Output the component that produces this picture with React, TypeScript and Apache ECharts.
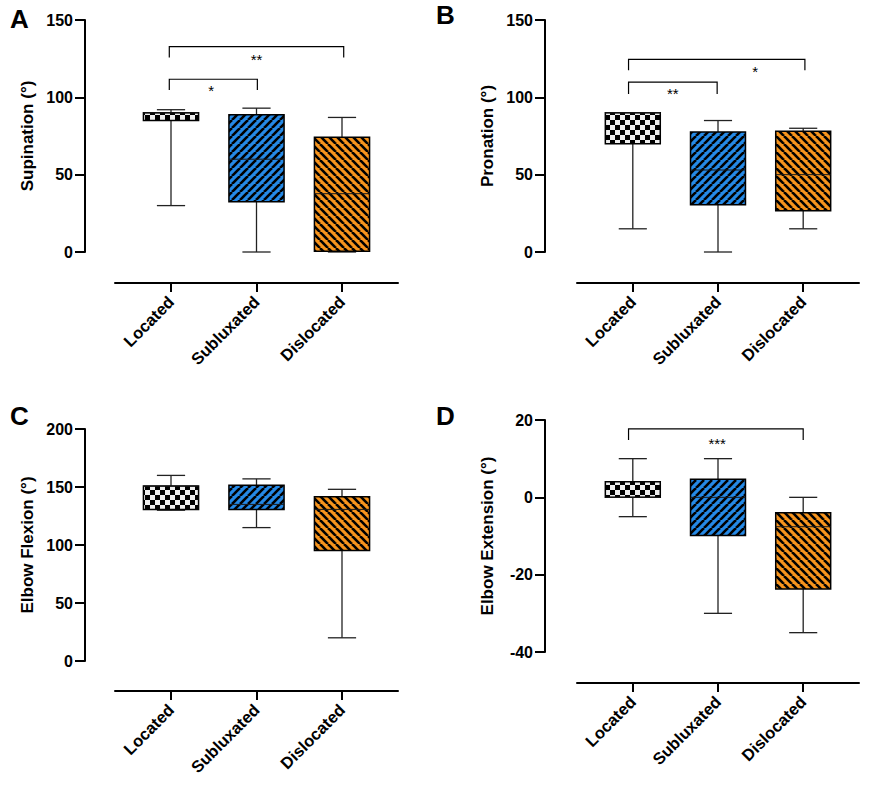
import React, { useEffect, useRef } from 'react';
import * as echarts from 'echarts';

const categories = ['Located', 'Subluxated', 'Dislocated'];
const tickValues = [0, 1, 2];

// each row: [min, Q1, median, Q3, max]
const supination = [
  [30, 85, 90, 90, 92],
  [0, 32.5, 60, 88.7, 93],
  [0, 0.5, 37.7, 74.2, 87],
];
const pronation = [
  [15, 70, 90, 90, 90],
  [0, 30.6, 53, 77.6, 85],
  [15, 26.7, 50, 78, 80],
];
const flexion = [
  [130, 130.7, 150.8, 150.8, 160],
  [115, 130.7, 135, 151.6, 157],
  [20, 95.3, 130.7, 141.6, 148],
];
const extension = [
  [-5, 0, 0, 4, 10],
  [-30, -9.9, 0, 4.7, 10],
  [-35, -23.7, -7.6, -4, 0],
];

// brackets: [x1, x2, topValue, dropValue]
const supBrackets = [
  [-0.02, 1.01, 111.7, 104.8],
  [-0.02, 2.02, 132.8, 125.8],
];
const proBrackets = [
  [-0.05, 0.99, 109.8, 102.2],
  [-0.05, 2.02, 124.6, 117.5],
];
const flexBrackets: number[][] = [];
const extBrackets = [[-0.05, 2.0, 17.7, 14.8]];

// significance stars: [x, y]
const supStarPos = [[0.47, 106.2], [1.0, 126.3]];
const supStarText = ['*', '**'];
const proStarPos = [[0.47, 104.3], [1.435, 118.8]];
const proStarText = ['**', '*'];
const flexStarPos: number[][] = [];
const flexStarText: string[] = [];
const extStarPos = [[0.99, 14.8]];
const extStarText = ['***'];

const FONT = '"Liberation Sans", Arial, Helvetica, sans-serif';

function makeChecker() {
  const c = document.createElement('canvas');
  c.width = 10; c.height = 10;
  const ctx = c.getContext('2d')!;
  ctx.fillStyle = '#eeeeee';
  ctx.fillRect(0, 0, 10, 10);
  ctx.fillStyle = '#000000';
  ctx.fillRect(0, 0, 5, 5);
  ctx.fillRect(5, 5, 5, 5);
  return { image: c, repeat: 'repeat', imageWidth: 10, imageHeight: 10 };
}

function makeStripe(bg: string, forward: boolean) {
  const n = 8;
  const c = document.createElement('canvas');
  c.width = n; c.height = n;
  const ctx = c.getContext('2d')!;
  ctx.fillStyle = bg;
  ctx.fillRect(0, 0, n, n);
  ctx.strokeStyle = '#000000';
  ctx.lineWidth = 2.6;
  for (let k = -1; k <= 1; k++) {
    ctx.beginPath();
    if (forward) {
      ctx.moveTo(k * n, n);
      ctx.lineTo(k * n + n, 0);
    } else {
      ctx.moveTo(k * n, 0);
      ctx.lineTo(k * n + n, n);
    }
    ctx.stroke();
  }
  return { image: c, repeat: 'repeat', imageWidth: n, imageHeight: n };
}

export default function App() {
  const ref = useRef<HTMLDivElement>(null);

  useEffect(() => {
    if (!ref.current) return;
    const chart = echarts.init(ref.current, null, { renderer: 'svg' });

    const patterns = [makeChecker(), makeStripe('#2589E6', true), makeStripe('#F7941D', false)];

    const panels = [
      { letter: 'A', data: supination, yName: 'Supination (°)', yMin: 0, yMax: 150, yInt: 50,
        grid: { left: 115, top: 20, width: 283, height: 232 }, yOff: 30, xOff: 31,
        brackets: supBrackets, starPos: supStarPos, starText: supStarText, lx: 10, ly: 21 },
      { letter: 'B', data: pronation, yName: 'Pronation (°)', yMin: 0, yMax: 150, yInt: 50,
        grid: { left: 577, top: 20, width: 282, height: 232 }, yOff: 32, xOff: 31,
        brackets: proBrackets, starPos: proStarPos, starText: proStarText, lx: 436, ly: 17 },
      { letter: 'C', data: flexion, yName: 'Elbow Flexion (°)', yMin: 0, yMax: 200, yInt: 50,
        grid: { left: 115, top: 429, width: 283, height: 232 }, yOff: 30, xOff: 30,
        brackets: flexBrackets, starPos: flexStarPos, starText: flexStarText, lx: 10, ly: 418 },
      { letter: 'D', data: extension, yName: 'Elbow Extension (°)', yMin: -40, yMax: 20, yInt: 20,
        grid: { left: 577, top: 420, width: 282, height: 232 }, yOff: 32, xOff: 31,
        brackets: extBrackets, starPos: extStarPos, starText: extStarText, lx: 436, ly: 418 },
    ];

    const grids: any[] = [];
    const xAxes: any[] = [];
    const yAxes: any[] = [];
    const series: any[] = [];
    const graphics: any[] = [];

    panels.forEach((p, gi) => {
      grids.push({ ...p.grid, outerBoundsMode: 'none', containLabel: false });
      xAxes.push({
        type: 'value', gridIndex: gi, min: -0.655, max: 2.655, position: 'bottom', offset: p.xOff,
        splitLine: { show: false },
        axisLine: { show: true, onZero: false, lineStyle: { color: '#000', width: 2 } },
        axisTick: { show: true, customValues: tickValues, length: 9, inside: false, lineStyle: { color: '#000', width: 2 } },
        axisLabel: {
          show: true, customValues: tickValues, rotate: 45, margin: 16,
          formatter: (v: number) => categories[Math.round(v)] ?? '',
          color: '#000', fontWeight: 'bold', fontSize: 16.5, fontFamily: FONT,
        },
      });
      yAxes.push({
        type: 'value', gridIndex: gi, min: p.yMin, max: p.yMax, interval: p.yInt, offset: p.yOff,
        splitLine: { show: false },
        axisLine: { show: true, onZero: false, lineStyle: { color: '#000', width: 2 } },
        axisTick: { show: true, length: 10, inside: false, lineStyle: { color: '#000', width: 2 } },
        axisLabel: { color: '#000', fontWeight: 'bold', fontSize: 16, fontFamily: FONT, margin: 12 },
        name: p.yName, nameLocation: 'middle', nameGap: 49, nameMoveOverlap: false,
        nameTextStyle: { color: '#000', fontWeight: 'bold', fontSize: 17, fontFamily: FONT },
      });

      const boxData = p.data.map((d, i) => [i, ...d]);
      series.push({
        type: 'custom', xAxisIndex: gi, yAxisIndex: gi,
        encode: { x: 0, y: [1, 2, 3, 4, 5] },
        data: boxData,
        renderItem: (params: any, api: any) => {
          const x = api.value(0);
          const idx = Math.round(x);
          const pMin = api.coord([x, api.value(1)]);
          const pQ1 = api.coord([x, api.value(2)]);
          const pMed = api.coord([x, api.value(3)]);
          const pQ3 = api.coord([x, api.value(4)]);
          const pMax = api.coord([x, api.value(5)]);
          const bw = api.size([0.645, 0])[0];
          const cw = api.size([0.33, 0])[0];
          const cx = pMed[0];
          const ws = { stroke: '#222', lineWidth: 1.3 };
          const children: any[] = [
            { type: 'line', shape: { x1: cx, y1: pMax[1], x2: cx, y2: pQ3[1] }, style: ws },
            { type: 'line', shape: { x1: cx - cw / 2, y1: pMax[1], x2: cx + cw / 2, y2: pMax[1] }, style: ws },
            { type: 'line', shape: { x1: cx, y1: pQ1[1], x2: cx, y2: pMin[1] }, style: ws },
            { type: 'line', shape: { x1: cx - cw / 2, y1: pMin[1], x2: cx + cw / 2, y2: pMin[1] }, style: ws },
            {
              type: 'rect',
              shape: { x: cx - bw / 2, y: pQ3[1], width: bw, height: pQ1[1] - pQ3[1] },
              style: { fill: patterns[idx] as any, stroke: '#000', lineWidth: 1.5 },
            },
            { type: 'line', shape: { x1: cx - bw / 2, y1: pMed[1], x2: cx + bw / 2, y2: pMed[1] }, style: { stroke: '#1a1a1a', lineWidth: 1 } },
          ];
          return { type: 'group', children };
        },
        z: 2,
      });

      if (p.brackets.length) {
        series.push({
          type: 'custom', xAxisIndex: gi, yAxisIndex: gi,
          encode: { x: [0, 1], y: [2, 3] },
          data: p.brackets,
          renderItem: (params: any, api: any) => {
            const a = api.coord([api.value(0), api.value(2)]);
            const b = api.coord([api.value(1), api.value(2)]);
            const a2 = api.coord([api.value(0), api.value(3)]);
            const b2 = api.coord([api.value(1), api.value(3)]);
            return {
              type: 'polyline',
              shape: { points: [a2, a, b, b2] },
              style: { stroke: '#000', lineWidth: 1.2, fill: 'none' },
            };
          },
        });
      }
      if (p.starPos.length) {
        const texts = p.starText;
        series.push({
          type: 'custom', xAxisIndex: gi, yAxisIndex: gi,
          encode: { x: 0, y: 1 },
          data: p.starPos,
          renderItem: (params: any, api: any) => {
            const pt = api.coord([api.value(0), api.value(1)]);
            return {
              type: 'text', x: pt[0], y: pt[1] + 3,
              style: {
                text: texts[params.dataIndex], fill: '#000',
                font: `normal 15px ${FONT}`, align: 'center', verticalAlign: 'middle',
              },
            };
          },
        });
      }

      graphics.push({
        type: 'text', left: p.lx, top: p.ly - 15,
        style: { text: p.letter, fill: '#000', font: `bold 26px ${FONT}` },
      });
    });

    chart.setOption({
      animation: false,
      backgroundColor: '#fff',
      grid: grids,
      xAxis: xAxes,
      yAxis: yAxes,
      series,
      graphic: graphics,
    });

    return () => chart.dispose();
  }, []);

  return (
    <div
      ref={ref}
      style={{ position: 'fixed', left: 0, top: 0, width: 870, height: 794, background: '#fff' }}
    />
  );
}
